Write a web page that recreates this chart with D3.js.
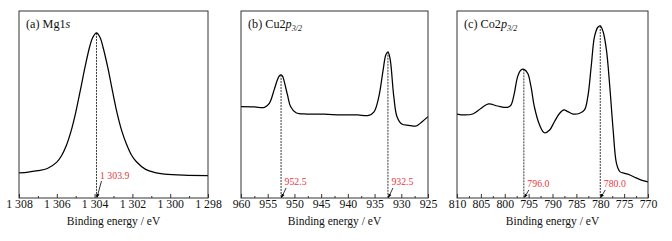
<!DOCTYPE html>
<html>
<head>
<meta charset="utf-8">
<script src="https://cdn.jsdelivr.net/npm/d3@7"></script>
<style>
  body { margin: 0; background: #fff; }
  svg text { font-family: "Liberation Serif", "Times New Roman", serif; }
</style>
</head>
<body>
<div id="chart"></div>
<script>
// binding energy (eV) and intensity (a.u., 0-100 of the frame height)
const mgEnergy = [1308, 1307.5, 1307, 1306.5, 1306, 1305.75, 1305.5, 1305.25, 1305, 1304.75, 1304.5, 1304.25, 1304.1, 1303.9,
  1303.7, 1303.55, 1303.3, 1303.05, 1302.8, 1302.55, 1302.3, 1302.05, 1301.8, 1301.3, 1300.8, 1300.3, 1299.3, 1298];
const mgIntensity = [13.4, 13.9, 14.6, 15.8, 19.2, 22.6, 27.9, 35.6, 45.7, 57.8, 70.4, 81.3, 85.8, 88.3,
  85.6, 80.5, 69.7, 57.0, 45.0, 35.5, 28.5, 23.0, 19.5, 15.3, 13.6, 12.8, 12.2, 12.0];

const cuEnergy = [960, 957.5, 955.6, 954.7, 953.8, 953.2, 952.8, 952.5, 952.2, 951.9, 951.3, 950.7, 949.7, 947.6, 944.5,
  941.3, 938.2, 936.1, 935.1, 934.2, 933.4, 932.9, 932.5, 932.1, 931.4, 930.8, 929.9, 928.6, 927.2, 926.1, 925];
const cuIntensity = [48.8, 48.7, 48.5, 50.6, 57.8, 63.1, 65.4, 65.8, 65.0, 62.2, 55.1, 48.8, 45.6, 44.9, 44.8,
  44.5, 44.4, 44.2, 46.1, 54.2, 68.4, 76.5, 78.2, 74.5, 54.2, 43.5, 39.6, 38.9, 38.5, 40.8, 43.5];

const coEnergy = [810, 808.45, 806.7, 805.0, 803.4, 801.5, 799.4, 798.7, 798.0, 797.3, 796.6, 796.0, 795.2, 794.5, 793.8,
  792.7, 791.7, 790.6, 789.6, 788.5, 787.6, 786.8, 785.7, 784.3, 783.3, 782.6, 781.9, 781.2, 780.5, 780.0, 779.4,
  778.7, 778.0, 777.3, 776.6, 775.9, 774.9, 773.8, 772.8, 771.4, 770];
const coIntensity = [44.9, 44.4, 44.9, 47.9, 50.3, 49.2, 48.5, 49.7, 56.0, 64.9, 68.4, 68.8, 66.7, 59.5, 48.8,
  39.0, 34.9, 36.4, 40.8, 45.3, 47.1, 46.2, 44.9, 45.3, 47.1, 54.2, 70.2, 86.3, 91.3, 92.0, 88.9,
  79.1, 59.5, 36.4, 18.5, 14.1, 13.2, 12.3, 11.1, 9.6, 8.6];

const mgTicks = [1308, 1306, 1304, 1302, 1300, 1298];
const cuTicks = [960, 955, 950, 945, 940, 935, 930, 925];
const coTicks = [810, 805, 800, 795, 790, 785, 780, 775, 770];

const mgPeaks = [1303.9];
const cuPeaks = [952.5, 932.5];
const coPeaks = [796.0, 780.0];

const titles = [
  [["(a) Mg1", "normal"], ["s", "italic"]],
  [["(b) Cu2", "normal"], ["p", "italic"], ["3/2", "sub"]],
  [["(c) Co2", "normal"], ["p", "italic"], ["3/2", "sub"]]
];
const xLabel = "Binding energy / eV";

const width = 672, height = 241;
const plotTop = 11, plotBottom = 198;

const locale = d3.formatLocale({ decimal: ".", thousands: " ", grouping: [3], currency: ["", ""] });
const fmtInt = locale.format(",d");
const fmtPeak = locale.format(",.1f");

const panels = [
  { left: 19, right: 208, domain: [1308, 1298], energy: mgEnergy, intensity: mgIntensity, ticks: mgTicks, minor: 1, peaks: mgPeaks, labelY: 179, arrowTop: 181, title: titles[0] },
  { left: 241, right: 428, domain: [960, 925], energy: cuEnergy, intensity: cuIntensity, ticks: cuTicks, minor: 2.5, peaks: cuPeaks, labelY: 185, arrowTop: 188, title: titles[1] },
  { left: 457, right: 648, domain: [810, 770], energy: coEnergy, intensity: coIntensity, ticks: coTicks, minor: 2.5, peaks: coPeaks, labelY: 187, arrowTop: 190, title: titles[2] }
];

const svg = d3.select("#chart")
  .append("svg")
  .attr("width", width)
  .attr("height", height)
  .attr("viewBox", [0, 0, width, height]);

svg.append("defs").append("marker")
  .attr("id", "arrow")
  .attr("viewBox", "0 0 10 10")
  .attr("refX", 9)
  .attr("refY", 5)
  .attr("markerWidth", 5)
  .attr("markerHeight", 5)
  .attr("orient", "auto")
  .append("path")
  .attr("d", "M0,1 L10,5 L0,9 Z")
  .attr("fill", "#000");

const y = d3.scaleLinear().domain([0, 100]).range([plotBottom, plotTop]);

panels.forEach(p => {
  const x = d3.scaleLinear().domain(p.domain).range([p.left, p.right]);
  const g = svg.append("g");

  // minor ticks
  const minorTicks = d3.range(p.domain[1], p.domain[0] + 0.001, p.minor)
    .filter(v => !p.ticks.some(t => Math.abs(t - v) < 1e-6));

  g.append("g")
    .attr("transform", `translate(0,${plotBottom})`)
    .call(d3.axisBottom(x).tickValues(minorTicks).tickSize(-2).tickFormat(""))
    .call(a => a.select(".domain").remove())
    .selectAll("line").attr("stroke", "#333");

  const ax = g.append("g")
    .attr("transform", `translate(0,${plotBottom})`)
    .call(d3.axisBottom(x).tickValues(p.ticks).tickSize(-4).tickFormat(fmtInt));
  ax.select(".domain").remove();
  ax.selectAll("line").attr("stroke", "#333");
  ax.selectAll("text")
    .attr("font-family", "Liberation Serif")
    .attr("font-size", 11.8)
    .attr("fill", "#111")
    .attr("y", 2);

  // dashed markers at peaks
  p.peaks.forEach(pk => {
    const i = d3.minIndex(p.energy, e => Math.abs(e - pk));
    g.append("line")
      .attr("x1", x(pk)).attr("x2", x(pk))
      .attr("y1", y(p.intensity[i])).attr("y2", plotBottom)
      .attr("stroke", "#222")
      .attr("stroke-width", 0.9)
      .attr("stroke-dasharray", "2,1");

    g.append("line")
      .attr("x1", x(pk) + 5).attr("y1", p.arrowTop)
      .attr("x2", x(pk) + 0.5).attr("y2", plotBottom - 0.5)
      .attr("stroke", "#000")
      .attr("stroke-width", 0.8)
      .attr("marker-end", "url(#arrow)");

    g.append("text")
      .attr("x", x(pk) + 3.5)
      .attr("y", p.labelY)
      .attr("font-size", 9.8)
      .attr("fill", "#e8383c")
      .text(fmtPeak(pk));
  });

  const line = d3.line()
    .x((d, i) => x(p.energy[i]))
    .y(d => y(d))
    .curve(d3.curveCatmullRom.alpha(0.5));

  g.append("path")
    .datum(p.intensity)
    .attr("fill", "none")
    .attr("stroke", "#000")
    .attr("stroke-width", 1.25)
    .attr("d", line);

  g.append("rect")
    .attr("x", p.left).attr("y", plotTop)
    .attr("width", p.right - p.left).attr("height", plotBottom - plotTop)
    .attr("fill", "none")
    .attr("stroke", "#333")
    .attr("stroke-width", 1);

  // panel title
  const t = g.append("text")
    .attr("x", p.left + 7)
    .attr("y", 28)
    .attr("font-size", 12.2)
    .attr("fill", "#111");
  p.title.forEach(([s, style]) => {
    const ts = t.append("tspan").text(s);
    if (style === "italic") ts.attr("font-style", "italic");
    if (style === "sub") ts.attr("font-size", 8).attr("font-style", "italic").attr("dy", 3);
  });

  g.append("text")
    .attr("x", (p.left + p.right) / 2)
    .attr("y", 225)
    .attr("text-anchor", "middle")
    .attr("font-size", 11.5)
    .attr("fill", "#111")
    .text(xLabel);
});
</script>
</body>
</html>
